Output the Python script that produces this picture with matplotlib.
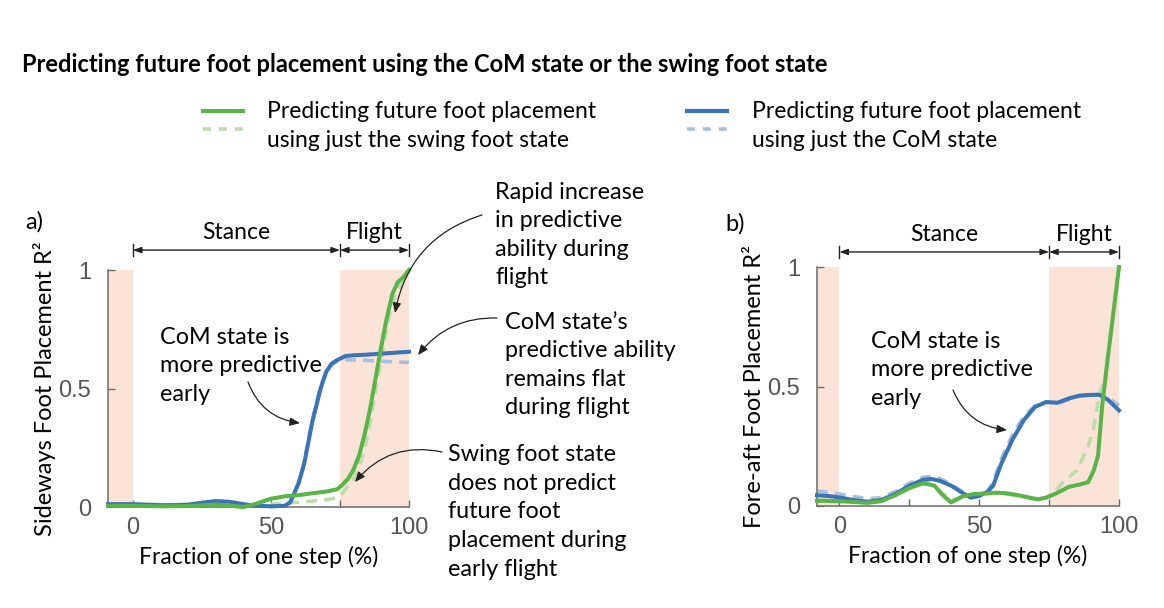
import numpy as np
import matplotlib
matplotlib.use('Agg')
import matplotlib.pyplot as plt

plt.rcParams['font.family'] = ['Lato', 'DejaVu Sans']

W, H = 1164, 608

# ---- data ----
# panel a: sideways foot placement R^2
a_blue_x = [-9, -5, 0, 5, 10, 15, 20, 25, 30, 35, 40, 45, 50, 55, 57, 60, 62, 65, 68, 70, 72, 74, 77, 80, 85, 90, 95, 100]
a_blue = [0.012, 0.012, 0.012, 0.010, 0.008, 0.008, 0.010, 0.018, 0.025, 0.022, 0.012, 0.005, 0.003, 0.005,
          0.020, 0.10, 0.18, 0.36, 0.50, 0.57, 0.605, 0.62, 0.637, 0.640, 0.643, 0.647, 0.651, 0.655]
a_blue_d = [0.008, 0.008, 0.008, 0.007, 0.005, 0.005, 0.008, 0.015, 0.022, 0.020, 0.010, 0.004, 0.002, 0.005,
            0.020, 0.10, 0.19, 0.37, 0.51, 0.57, 0.60, 0.615, 0.622, 0.620, 0.618, 0.615, 0.612, 0.610]
a_green_x = [-9, 0, 10, 20, 30, 35, 40, 45, 50, 55, 60, 65, 70, 74, 76, 78, 80, 82, 84, 86, 88, 90, 92, 94, 96, 98, 100]
a_green = [0.005, 0.005, 0.003, 0.004, 0.010, 0.006, 0.0, 0.015, 0.035, 0.045, 0.050, 0.058, 0.065, 0.075,
           0.095, 0.12, 0.16, 0.22, 0.31, 0.42, 0.55, 0.68, 0.80, 0.90, 0.95, 0.97, 1.0]
a_green_dx = [-9, 0, 10, 20, 30, 40, 45, 50, 55, 60, 65, 70, 74, 76, 78, 80, 82, 84, 86, 88, 90, 92, 94, 96, 98, 100]
a_green_d = [0.004, 0.004, 0.003, 0.003, 0.006, 0.0, 0.005, 0.012, 0.016, 0.020, 0.025, 0.030, 0.040, 0.060,
             0.09, 0.12, 0.17, 0.25, 0.36, 0.50, 0.63, 0.76, 0.86, 0.92, 0.96, 0.99]

# panel b: fore-aft foot placement R^2
b_blue_x = [-8, -4, 0, 5, 10, 15, 20, 25, 30, 33, 36, 40, 44, 47, 50, 53, 55, 58, 62, 66, 70, 74, 78, 82, 86, 90, 93, 96, 100]
b_blue = [0.045, 0.042, 0.036, 0.025, 0.018, 0.025, 0.050, 0.085, 0.110, 0.113, 0.105, 0.085, 0.055, 0.035, 0.042,
          0.060, 0.085, 0.18, 0.28, 0.36, 0.415, 0.435, 0.432, 0.450, 0.462, 0.465, 0.465, 0.445, 0.40]
b_blue_d = [0.062, 0.058, 0.050, 0.040, 0.030, 0.035, 0.060, 0.095, 0.120, 0.125, 0.115, 0.090, 0.060, 0.040, 0.045,
            0.060, 0.10, 0.20, 0.30, 0.375, 0.42, 0.435, 0.428, 0.445, 0.460, 0.465, 0.468, 0.455, 0.42]
b_green_x = [-8, 0, 5, 10, 15, 20, 25, 30, 32, 34, 37, 40, 44, 48, 52, 56, 60, 64, 68, 71, 74, 78, 82, 86, 89, 91, 92.5, 94, 96, 98, 100]
b_green = [0.022, 0.020, 0.017, 0.013, 0.020, 0.045, 0.075, 0.095, 0.090, 0.085, 0.045, 0.015, 0.040, 0.050, 0.052,
           0.056, 0.053, 0.045, 0.035, 0.028, 0.035, 0.055, 0.080, 0.090, 0.10, 0.15, 0.21, 0.42, 0.62, 0.81, 1.0]
b_green_dx = [-8, 0, 10, 20, 30, 32, 35, 40, 45, 50, 55, 60, 65, 70, 74, 77, 80, 85, 89, 91, 93, 95, 97, 100]
b_green_d = [0.025, 0.025, 0.015, 0.045, 0.10, 0.095, 0.07, 0.025, 0.040, 0.050, 0.053, 0.050, 0.040, 0.030, 0.035,
             0.060, 0.10, 0.15, 0.25, 0.33, 0.47, 0.53, 0.72, 1.0]

green = '#5ab548'
green_l = '#bcdcaa'
blue = '#3b73b9'
blue_l = '#a9bfe0'
peach = '#fce3d8'
gray = '#555555'

fig = plt.figure(figsize=(W / 100, H / 100), dpi=100)


def fx(x):
    return x / W


def fy(y):
    return 1 - y / H


def fp(x, y):
    return (x, H - y)


def panel(rect, xmin, ylabel, bx, bs, bd, gx, gs, gdx, gd, arrow_y):
    ax = fig.add_axes(rect)
    ax.axvspan(xmin, 0, color=peach, lw=0, zorder=0)
    ax.axvspan(75, 100, color=peach, lw=0, zorder=0)
    ax.plot(bx, bd, color=blue_l, lw=2.6, ls=(0, (3, 2)), clip_on=False, zorder=2)
    ax.plot(gdx, gd, color=green_l, lw=2.6, ls=(0, (3, 2)), clip_on=False, zorder=2)
    ax.plot(bx, bs, color=blue, lw=2.9, clip_on=False, zorder=3)
    ax.plot(gx, gs, color=green, lw=2.9, clip_on=False, zorder=4)
    ax.set_xlim(xmin, 100)
    ax.set_ylim(0, 1)
    for s in ['top', 'right']:
        ax.spines[s].set_visible(False)
    for s in ['left', 'bottom']:
        ax.spines[s].set_color('#6a6a6a')
        ax.spines[s].set_linewidth(1.1)
    ax.set_xticks([0, 50, 100])
    ax.set_xticks([25, 75], minor=True)
    ax.set_yticks([0, 0.5, 1])
    ax.set_yticklabels(['0', '0.5', '1'])
    ax.tick_params(direction='in', length=5, width=1.0, color='#6a6a6a', labelcolor=gray,
                   labelsize=17, labelfontfamily='Liberation Sans')
    ax.tick_params(axis='y', pad=12)
    ax.tick_params(axis='x', pad=7)
    ax.tick_params(axis='x', which='minor', direction='in', length=5, width=1.0, color='#6a6a6a')
    ax.set_ylabel(ylabel, fontsize=17, labelpad=2)
    ax.set_xlabel('Fraction of one step (%)', fontsize=16.5, labelpad=5)
    # stance / flight brackets
    tr = ax.get_xaxis_transform()
    for x0, x1 in [(0, 75), (75, 100)]:
        ax.annotate('', xy=(x1, arrow_y), xytext=(x0, arrow_y), xycoords=tr, textcoords=tr,
                    arrowprops=dict(arrowstyle='<|-|>,head_length=0.5,head_width=0.18', color='#222222',
                                    lw=1.0, shrinkA=0, shrinkB=0), annotation_clip=False)
    for xb in [0, 75, 100]:
        ax.plot([xb, xb], [arrow_y - 0.025, arrow_y + 0.025], transform=tr, color='#222222',
                lw=1.0, clip_on=False)
    ax.text(37.5, arrow_y + 0.03, 'Stance', transform=tr, ha='center', va='bottom', fontsize=16.5)
    ax.text(87.5, arrow_y + 0.03, 'Flight', transform=tr, ha='center', va='bottom', fontsize=16.5)
    return ax


ax_a = panel([108 / W, 1 - 507 / H, 301 / W, 237 / H], -9, 'Sideways Foot Placement R\u00b2',
             a_blue_x, a_blue, a_blue_d, a_green_x, a_green, a_green_dx, a_green_d, 1.084)
ax_b = panel([817 / W, 1 - 506 / H, 302 / W, 239 / H], -8, 'Fore-aft Foot Placement R\u00b2',
             b_blue_x, b_blue, b_blue_d, b_green_x, b_green, b_green_dx, b_green_d, 1.063)

# title
fig.text(fx(22), fy(65), 'Predicting future foot placement using the CoM state or the swing foot state',
         fontsize=17, fontweight='bold', va='center', ha='left')

# legend
fig.add_artist(plt.Line2D([fx(203), fx(243)], [fy(111), fy(111)], color=green, lw=3))
fig.add_artist(plt.Line2D([fx(203), fx(243)], [fy(129), fy(129)], color=green_l, lw=2.6, ls=(0, (2.2, 2.2))))
fig.add_artist(plt.Line2D([fx(687), fx(727)], [fy(111), fy(111)], color=blue, lw=3))
fig.add_artist(plt.Line2D([fx(687), fx(727)], [fy(129), fy(129)], color=blue_l, lw=2.6, ls=(0, (2.2, 2.2))))
fig.text(fx(267), fy(126), 'Predicting future foot placement\nusing just the swing foot state',
         fontsize=16.5, va='center', ha='left', linespacing=1.45)
fig.text(fx(752), fy(126), 'Predicting future foot placement\nusing just the CoM state',
         fontsize=16.5, va='center', ha='left', linespacing=1.45)

# panel letters
fig.text(fx(25), fy(222), 'a)', fontsize=17, va='center', ha='left')
fig.text(fx(725), fy(224), 'b)', fontsize=17, va='center', ha='left')

# annotations
ann_kw = dict(fontsize=16.8, va='center', ha='left', linespacing=1.45)
fig.text(fx(160), fy(366), 'CoM state is\nmore predictive\nearly', **ann_kw)
fig.text(fx(495), fy(235), 'Rapid increase\nin predictive\nability during\nflight', **ann_kw)
fig.text(fx(505), fy(365), 'CoM state\u2019s\npredictive ability\nremains flat\nduring flight', **ann_kw)
fig.text(fx(448), fy(512), 'Swing foot state\ndoes not predict\nfuture foot\nplacement during\nearly flight', **ann_kw)
fig.text(fx(871), fy(370), 'CoM state is\nmore predictive\nearly', **ann_kw)

arrows = [((248, 382), (300, 423), 0.3),
          ((482, 215), (395, 313), 0.3),
          ((497, 318), (418, 355), 0.25),
          ((442, 452), (355, 482), 0.3),
          ((953, 390), (1007, 430), 0.3)]
for start, end, rad in arrows:
    fig.add_artist(matplotlib.patches.FancyArrowPatch(
        fp(*start), fp(*end), transform=None,
        arrowstyle='-|>,head_length=6,head_width=2.5', connectionstyle='arc3,rad=%s' % rad,
        color='#222222', lw=0.9, shrinkA=0, shrinkB=0))

fig.savefig('out.png', dpi=100)
